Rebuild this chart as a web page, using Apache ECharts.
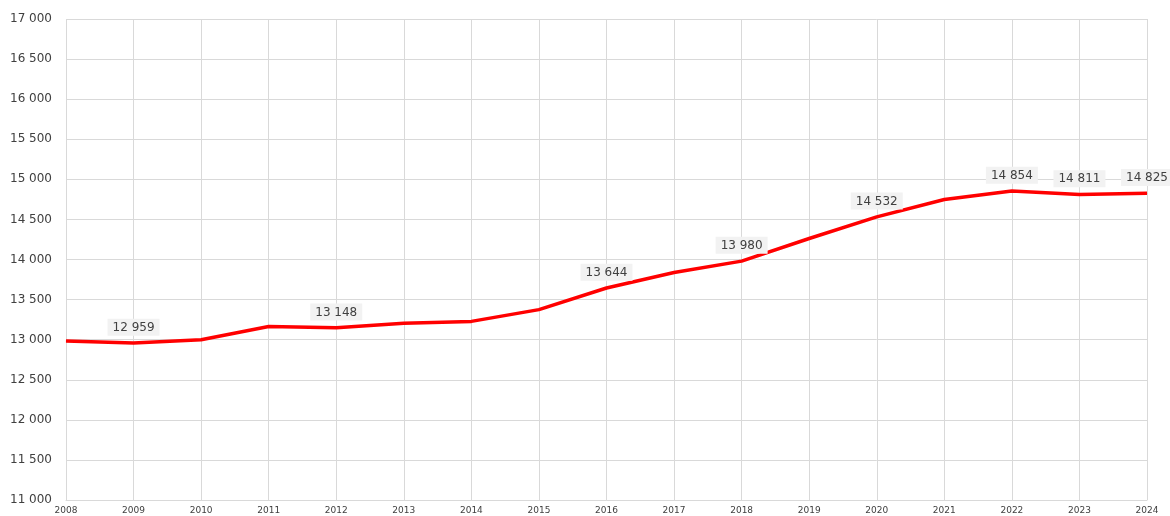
<!DOCTYPE html>
<html><head><meta charset="utf-8">
<script src="https://cdn.jsdelivr.net/npm/echarts@6/dist/echarts.min.js"></script>
<style>html,body{margin:0;padding:0;background:#fff}#c{width:1170px;height:516px}</style>
</head><body><div id="c"></div>
<script>
const years = ['2008','2009','2010','2011','2012','2013','2014','2015','2016','2017','2018','2019','2020','2021','2022','2023','2024'];
const values = [12982,12959,13000,13165,13148,13205,13228,13375,13644,13838,13980,14262,14532,14748,14854,14811,14825];
const labelledYears = ['2009','2012','2016','2018','2020','2022','2023','2024'];
const yMin = 11000, yMax = 17000, yStep = 500;

const fmt = v => String(v).replace(/\B(?=(\d{3})+(?!\d))/g, ' ');
const chart = echarts.init(document.getElementById('c'));
chart.setOption({
  animation: false,
  grid: {left: 66, right: 23, top: 19, bottom: 16, containLabel: false},
  xAxis: {
    type: 'category', data: years, boundaryGap: false,
    axisLine: {show: true, lineStyle: {color: '#d9d9d9'}},
    axisTick: {show: false},
    splitLine: {show: true, lineStyle: {color: '#d9d9d9', width: 1}},
    axisLabel: {color: '#404040', fontSize: 9, fontFamily: 'DejaVu Sans', margin: 6, interval: 0}
  },
  yAxis: {
    type: 'value', min: yMin, max: yMax, interval: yStep,
    axisLine: {show: false}, axisTick: {show: false},
    splitLine: {lineStyle: {color: '#d9d9d9', width: 1}},
    axisLabel: {color: '#404040', fontSize: 12, fontFamily: 'DejaVu Sans', margin: 14, formatter: fmt}
  },
  series: [{
    type: 'line',
    data: values.map((v, i) => ({
      value: v,
      label: {show: labelledYears.includes(years[i])}
    })),
    showSymbol: true, showAllSymbol: true, symbol: 'circle', symbolSize: 0.5,
    lineStyle: {color: '#ff0000', width: 3.5},
    itemStyle: {color: '#ff0000'},
    label: {
      position: 'top', distance: 7, formatter: p => fmt(p.value),
      color: '#404040', fontSize: 12, fontFamily: 'DejaVu Sans',
      backgroundColor: '#f2f2f2', padding: [3, 5, 2, 5]
    },
    labelLayout: {hideOverlap: false}
  }]
});
</script></body></html>
